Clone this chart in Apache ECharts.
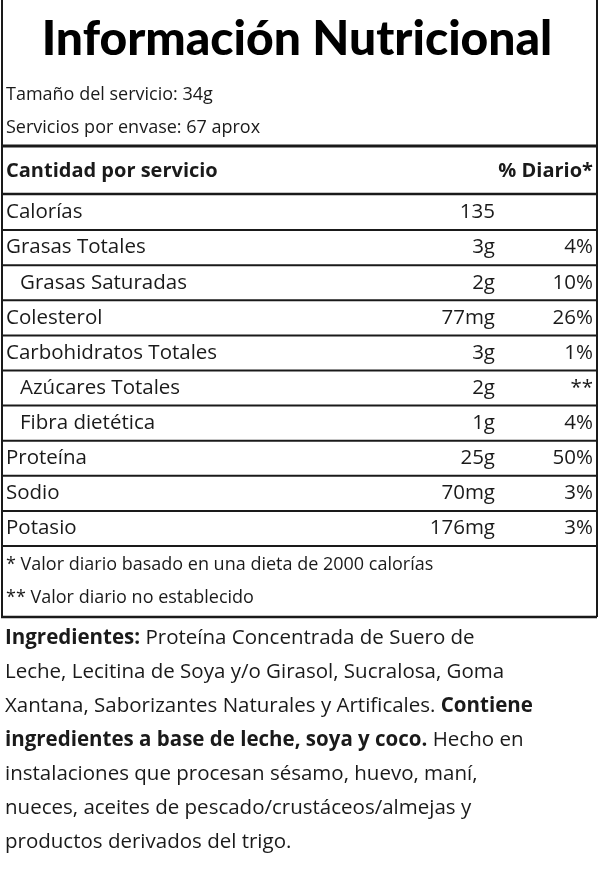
<!DOCTYPE html>
<html><head><meta charset="utf-8">
<script src="https://cdn.jsdelivr.net/npm/echarts@6/dist/echarts.min.js"></script>
<style>html,body{margin:0;background:#fff}#c{width:600px;height:892px}</style>
</head><body><div id="c"></div>
<script>
var nutrients = ['Calorías', 'Grasas Totales', 'Grasas Saturadas', 'Colesterol', 'Carbohidratos Totales',
  'Azúcares Totales', 'Fibra dietética', 'Proteína', 'Sodio', 'Potasio'];
var amounts = ['135', '3g', '2g', '77mg', '3g', '2g', '1g', '25g', '70mg', '176mg'];
var daily = ['', '4%', '10%', '26%', '1%', '**', '4%', '50%', '3%', '3%'];
var indented = [false, false, true, false, false, true, true, false, false, false];
var servingLines = ['Tamaño del servicio: 34g', 'Servicios por envase: 67 aprox'];
var footnotes = ['* Valor diario basado en una dieta de 2000 calorías', '** Valor diario no establecido'];
var ingredientLines = [
  '{b|Ingredientes:} Proteína Concentrada de Suero de',
  'Leche, Lecitina de Soya y/o Girasol, Sucralosa, Goma',
  'Xantana, Saborizantes Naturales y Artificales. {b|Contiene}',
  '{b|ingredientes a base de leche, soya y coco.} Hecho en',
  'instalaciones que procesan sésamo, huevo, maní,',
  'nueces, aceites de pescado/crustáceos/almejas y',
  'productos derivados del trigo.'
];

var font = '"Open Sans"';
var ink = '#1a1a1a';
var g = [];
function line(y, w) {
  g.push({type: 'line', shape: {x1: 1, y1: y, x2: 597, y2: y}, style: {stroke: ink, lineWidth: w}});
}
function txt(x, y, s, size, weight, align) {
  g.push({type: 'text', x: x, y: y, style: {text: s, fill: ink, font: (weight || 'normal') + ' ' + size + 'px ' + font,
    align: align || 'left', verticalAlign: 'middle'}});
}
// title
g.push({type: 'text', x: 297, y: 40, style: {text: 'Información Nutricional', fill: '#000',
  font: '900 48px Lato', align: 'center', verticalAlign: 'middle'}});
// box borders
g.push({type: 'line', shape: {x1: 2, y1: 0, x2: 2, y2: 617}, style: {stroke: ink, lineWidth: 2}});
g.push({type: 'line', shape: {x1: 597, y1: 0, x2: 597, y2: 617}, style: {stroke: ink, lineWidth: 2}});
servingLines.forEach(function (s, i) { txt(6, 95 + i * 33, s, 18); });
line(146, 3);
txt(6, 171, 'Cantidad por servicio', 20, 'bold');
txt(593, 171, '% Diario*', 20, 'bold', 'right');
line(194, 2.5);
var top0 = 195, rh = 35.1;
nutrients.forEach(function (n, i) {
  var cy = top0 + rh * i + rh / 2;
  txt(indented[i] ? 20 : 6, cy, n, 20.5);
  txt(495, cy, amounts[i], 20.5, 'normal', 'right');
  txt(593, cy, daily[i], 20.5, 'normal', 'right');
  line(top0 + rh * (i + 1), 2);
});
footnotes.forEach(function (s, i) { txt(6, 565 + i * 33, s, 18); });
line(617, 2.5);
ingredientLines.forEach(function (s, i) {
  g.push({type: 'text', x: 5, y: 638 + i * 34, style: {text: s, fill: ink, font: 'normal 20.5px ' + font,
    verticalAlign: 'middle', rich: {b: {fontWeight: 'bold', fontSize: 20.5, fontFamily: 'Open Sans', fill: ink}}}});
});

var chart = echarts.init(document.getElementById('c'));
chart.setOption({animation: false, graphic: g});
</script></body></html>
